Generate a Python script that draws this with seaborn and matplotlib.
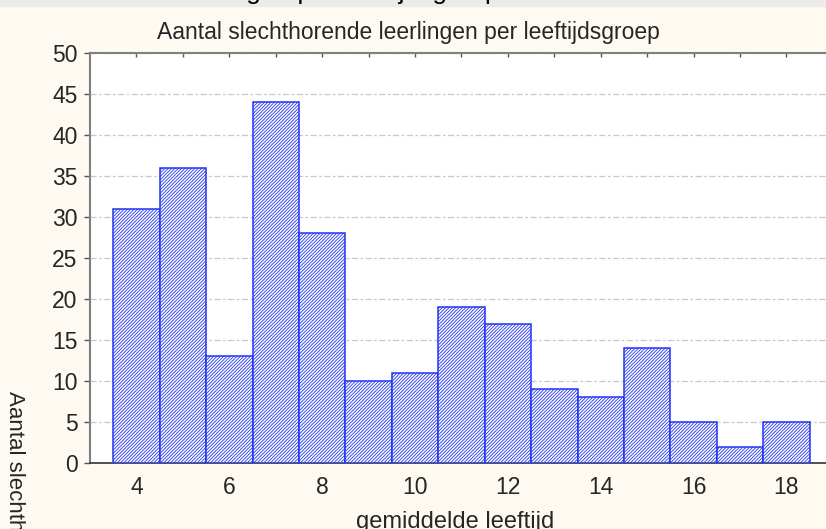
import numpy as np
import pandas as pd
import matplotlib
matplotlib.use("Agg")
import matplotlib.pyplot as plt
import seaborn as sns

# Data
ages = [4, 5, 6, 7, 8, 9, 10, 11, 12, 13, 14, 15, 16, 17, 18]
counts = [31, 36, 13, 44, 28, 10, 11, 19, 17, 9, 8, 14, 5, 2, 5]
xticks = [4, 6, 8, 10, 12, 14, 16, 18]
yticks = [0, 5, 10, 15, 20, 25, 30, 35, 40, 45, 50]

title = "Aantal slechthorende leerlingen per leeftijdsgroep"
xlabel = "gemiddelde leeftijd"
ylabel = "Aantal slechthorende leerlingen"

sns.set_style("white")
plt.rcParams['font.family'] = ['Liberation Sans', 'DejaVu Sans']
plt.rcParams['hatch.linewidth'] = 0.6

blue = "#2233F2"
W, H = 826, 529
fig = plt.figure(figsize=(W / 100, H / 100), dpi=100, facecolor="#FEFAF1")

# gray strip with cut off title text at top
fig.patches.append(plt.Rectangle((0, 1 - 6 / H), 1, 6 / H, transform=fig.transFigure,
                                 color="#EBEBEB", zorder=0))
fig.text(210 / W, 1 + 1 / H, title, ha="center", va="baseline", fontsize=19, color="black")

x0, x1 = 3.0, 19.05
ax_left, ax_bottom, ax_top = 90, 463, 53
px_per_unit = 46.43
ax = fig.add_axes([ax_left / W, 1 - ax_bottom / H,
                   (x1 - x0) * px_per_unit / W, (ax_bottom - ax_top) / H])
ax.set_facecolor("white")

df = pd.DataFrame({"age": ages, "count": counts})
sns.barplot(data=df, x="age", y="count", native_scale=True, width=1,
            color="white", edgecolor=blue, linewidth=1.1, ax=ax, zorder=3)
for p in ax.patches:
    p.set_hatch("//////////")
    p.set_facecolor("white")
    p.set_edgecolor(blue)

ax.set_xlim(x0, x1)
ax.set_ylim(0, 50)
ax.set_xticks(xticks)
ax.set_xticks(ages, minor=True)
ax.set_yticks(yticks)
ax.tick_params(axis="x", which="both", direction="in", top=True, bottom=True,
               length=3, width=1, color="#555555", labelsize=16.5, pad=9)
ax.tick_params(axis="y", direction="out", left=True, length=4, width=1,
               color="#555555", labelsize=16.5, pad=5)
ax.yaxis.grid(True, color="#C8C8C8", linestyle=(0, (5, 2, 2, 2)), linewidth=0.9)
ax.set_axisbelow(True)

for s in ["left", "top"]:
    ax.spines[s].set_color("#808080")
    ax.spines[s].set_linewidth(1.5)
ax.spines["bottom"].set_color("#333333")
ax.spines["bottom"].set_linewidth(1.2)
ax.spines["right"].set_visible(False)

ax.set_xlabel("")
ax.set_ylabel("")

fig.text(408 / W, 1 - 32 / H, title, ha="center", va="center", fontsize=16.5)
fig.text(455 / W, 1 - 528 / H, xlabel, ha="center", va="baseline", fontsize=17)
fig.text(14 / W, 1 - 391 / H, ylabel, ha="center", va="top", rotation=270, fontsize=16)

fig.savefig("out.png", dpi=100, facecolor=fig.get_facecolor())
